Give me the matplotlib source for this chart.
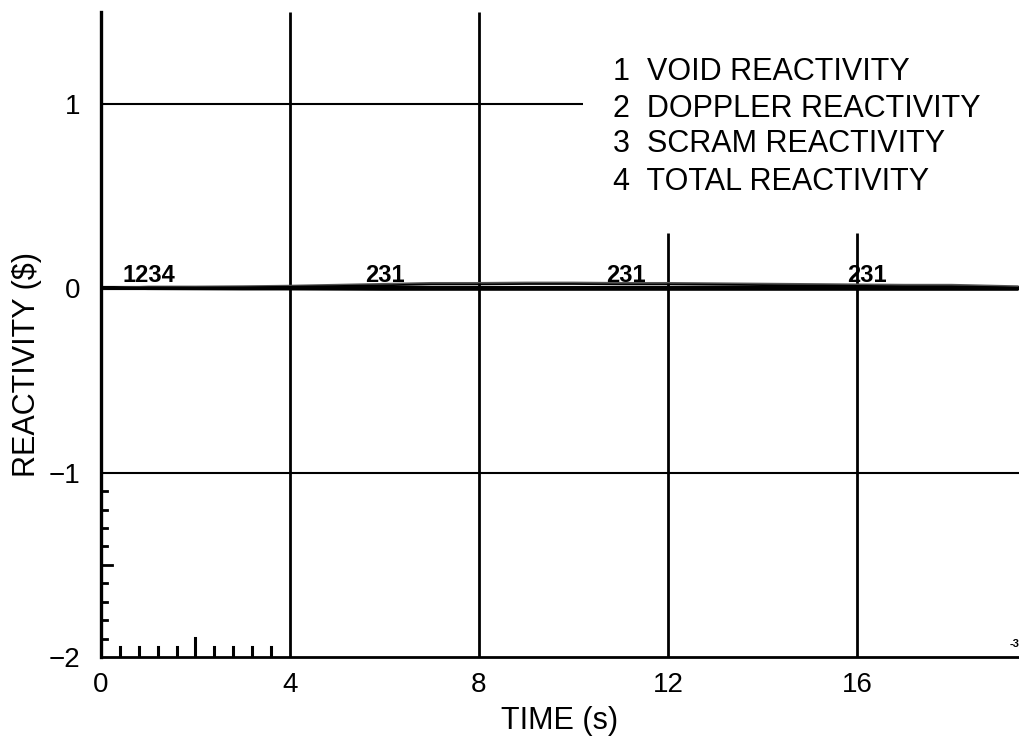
import numpy as np
import matplotlib.pyplot as plt
import matplotlib.transforms as mtransforms

plt.rcParams['font.family'] = ['Liberation Sans', 'DejaVu Sans']

# время, с
time = [0, 1, 2, 3, 4, 5, 6, 7, 8, 9, 10, 11, 12, 13, 14, 15, 16, 17, 18, 19.4]
# реактивности, $
void_r = [0.0, 0.01, 0.01, 0.012, 0.015, 0.02, 0.025, 0.03, 0.03, 0.032,
          0.032, 0.03, 0.03, 0.028, 0.026, 0.024, 0.022, 0.02, 0.02, 0.012]
doppler_r = [0.0, -0.004, -0.005, -0.006, -0.006, -0.007, -0.008, -0.008, -0.008, -0.008,
             -0.008, -0.008, -0.008, -0.008, -0.008, -0.008, -0.008, -0.008, -0.008, -0.008]
scram_r = [0.0] * 20
total_r = [0.0, 0.006, 0.005, 0.006, 0.009, 0.013, 0.017, 0.022, 0.022, 0.024,
           0.024, 0.022, 0.022, 0.02, 0.018, 0.016, 0.014, 0.012, 0.012, 0.004]

legend_lines = ['1  VOID REACTIVITY', '2  DOPPLER REACTIVITY',
                '3  SCRAM REACTIVITY', '4  TOTAL REACTIVITY']
legend_y = [1.177, 0.971, 0.781, 0.575]
# подписи кривых вдоль оси времени
curve_tags = [(0.45, '1234'), (5.6, '231'), (10.7, '231'), (15.8, '231')]

xticks = [0, 4, 8, 12, 16]
yticks = [-2, -1, 0, 1]
xminor = [0.4, 0.8, 1.2, 1.6, 2.0, 2.4, 2.8, 3.2, 3.6]
yminor = [-1.9, -1.8, -1.7, -1.6, -1.5, -1.4, -1.3, -1.2, -1.1]

fig = plt.figure(figsize=(10.19, 7.40), dpi=100)
ax = fig.add_axes([0.0991, 0.1122, 0.9009, 0.8716])
ax.set_xlim(0, 19.43)
ax.set_ylim(-2, 1.5)

for s in ['top', 'right']:
    ax.spines[s].set_visible(False)
ax.spines['left'].set_linewidth(2.4)
ax.spines['bottom'].set_linewidth(2.0)

# сетка
ax.vlines([4, 8], -2, 1.5, color='black', lw=2.0)
ax.vlines([12, 16], -2, 0.30, color='black', lw=2.0)
ax.hlines(1, 0, 10.2, color='black', lw=1.5)
ax.hlines(-1, 0, 19.43, color='black', lw=1.5)
ax.hlines(0, 0, 19.43, color='black', lw=3.0)

# кривые
ax.plot(time, void_r, color='#555555', lw=1.3)
ax.plot(time, doppler_r, color='black', lw=1.3)
ax.plot(time, scram_r, color='black', lw=1.3)
ax.plot(time, total_r, color='black', lw=1.3)

for x, tag in curve_tags:
    ax.text(x, 0.005, tag, fontsize=17, fontweight='bold', ha='left', va='bottom')

# мелкие засечки у начала координат
tx = mtransforms.blended_transform_factory(ax.transData, ax.transAxes)
ty = mtransforms.blended_transform_factory(ax.transAxes, ax.transData)
for v in xminor:
    h = 0.03 if v == 2.0 else 0.015
    ax.plot([v, v], [0, h], color='black', lw=2.2, transform=tx)
for v in yminor:
    w = 0.012 if v == -1.5 else 0.007
    ax.plot([0, w], [v, v], color='black', lw=2.0, transform=ty)

ax.set_xticks(xticks)
ax.set_yticks(yticks)
ax.set_yticklabels(['\u22122', '\u22121', '0', '1'])
ax.tick_params(length=0, labelsize=20)
ax.tick_params(axis='y', pad=15)
ax.tick_params(axis='x', pad=11)

ax.set_xlabel('TIME (s)', fontsize=22, va='center')
ax.set_ylabel('REACTIVITY ($)', fontsize=22, va='center', ha='center')
ax.xaxis.set_label_coords(0.5, -0.099)
ax.yaxis.set_label_coords(-0.0806, 0.454)

for y, line in zip(legend_y, legend_lines):
    ax.text(10.84, y, line, fontsize=22, va='center', ha='left')
ax.text(19.43, -1.93, '-3', fontsize=8, fontweight='bold', ha='right', va='center')

fig.savefig('out.png', dpi=100)
